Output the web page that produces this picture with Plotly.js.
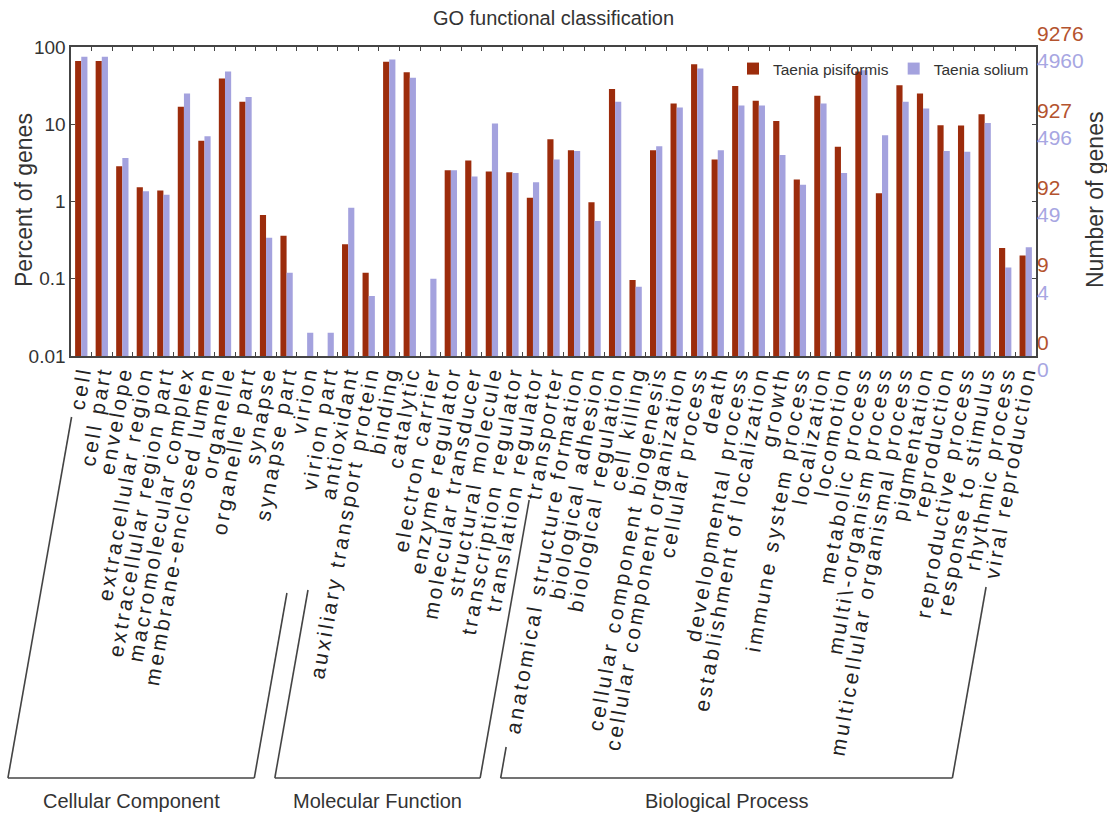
<!DOCTYPE html>
<html>
<head>
<meta charset="utf-8">
<script src="https://cdn.plot.ly/plotly-3.0.1.min.js"></script>
<style>
  html, body { margin: 0; padding: 0; background: #fff; }
  #chart { width: 1107px; height: 818px; }
  .xtick text { letter-spacing: 3px; }
</style>
</head>
<body>
<div id="chart"></div>
<script>
// ---- data ----
const categories = [
  "cell", "cell part", "envelope", "extracellular region", "extracellular region part",
  "macromolecular complex", "membrane-enclosed lumen", "organelle", "organelle part",
  "synapse", "synapse part", "virion", "virion part",
  "antioxidant", "auxiliary transport protein", "binding", "catalytic", "electron carrier",
  "enzyme regulator", "molecular transducer", "structural molecule", "transcription regulator",
  "translation regulator", "transporter",
  "anatomical structure formation", "biological adhesion", "biological regulation", "cell killing",
  "cellular component biogenesis", "cellular component organization", "cellular process", "death",
  "developmental process", "establishment of localization", "growth", "immune system process",
  "localization", "locomotion", "metabolic process", "multi\\-organism process",
  "multicellular organismal process", "pigmentation", "reproduction", "reproductive process",
  "response to stimulus", "rhythmic process", "viral reproduction"
];
const pisiformis = [
  66, 66, 2.85, 1.53, 1.39, 16.8, 6.1, 39, 19.5, 0.67, 0.36, null, null,
  0.28, 0.12, 64.5, 47, null, 2.53, 3.4, 2.45, 2.4, 1.12, 6.4,
  4.6, 0.98, 28.5, 0.096, 4.6, 18.6, 59.6, 3.5, 31.2, 20.1, 11.0, 1.93,
  23.3, 5.1, 48, 1.28, 32, 25, 9.7, 9.6, 13.5, 0.25, 0.2
];
const solium = [
  75, 75, 3.65, 1.36, 1.22, 25, 7.0, 48, 22.6, 0.34, 0.12, 0.02, 0.02,
  0.83, 0.06, 69, 40, 0.1, 2.53, 2.1, 10.2, 2.33, 1.78, 3.5,
  4.5, 0.56, 19.5, 0.079, 5.2, 16.5, 52.8, 4.6, 17.5, 17.5, 4.0, 1.65,
  18.6, 2.33, 50, 7.2, 19.5, 16, 4.5, 4.4, 10.4, 0.14, 0.255
];
const seriesNames = ["Taenia pisiformis", "Taenia solium"];
const percentTicks = [0.01, 0.1, 1, 10, 100];
const percentTickText = ["0.01", "0.1", "1", "10", "100"];
const countTicksPisiformis = ["0", "9", "92", "927", "9276"];
const countTicksSolium = ["0", "4", "49", "496", "4960"];
const groupNames = ["Cellular Component", "Molecular Function", "Biological Process"];
const groupFirst = [0, 13, 24];
const groupLast = [12, 23, 46];
const leftTitle = "Percent of genes";
const rightTitle = "Number of genes";
const chartTitle = "GO functional classification";

// ---- style / layout constants ----
const W = 1107, H = 818;
const M = {l: 71, r: 71, t: 47, b: 462};
const plotW = W - M.l - M.r, plotH = H - M.t - M.b;
const RED = "#9c2c0c", BLUE = "#a4a2de";
const RED_TXT = "#b4532e", BLUE_TXT = "#a7a6e2";
const SANS = "Liberation Sans, Arial, sans-serif";
const SLOPE = Math.tan(10 * Math.PI / 180);   // label direction (80 deg)
const AXIS_Y = 362, BRACKET_BOTTOM = 778, GROUP_LABEL_Y = 801;
const lineTopLeft = [417, 590, 747];
const lineTopRight = [593, 500, 587];

const N = categories.length;
const px2xp = px => (px - M.l) / plotW;
const py2yp = py => 1 - (py - M.t) / plotH;
function catPx(i) { return M.l + (i + 0.5) * plotW / N; }
function alongLabel(i, py) { return catPx(i) - SLOPE * (py - AXIS_Y); }

const shapes = [];
const annotations = [];
for (let g = 0; g < groupNames.length; g++) {
  const a = groupFirst[g], b = groupLast[g];
  const xlTop = alongLabel(a, lineTopLeft[g]), xlBot = alongLabel(a, BRACKET_BOTTOM);
  const xrTop = alongLabel(b, lineTopRight[g]), xrBot = alongLabel(b, BRACKET_BOTTOM);
  const ln = {color: "#444", width: 1.6};
  shapes.push({type: "line", xref: "paper", yref: "paper",
    x0: px2xp(xlTop), y0: py2yp(lineTopLeft[g]), x1: px2xp(xlBot), y1: py2yp(BRACKET_BOTTOM), line: ln});
  shapes.push({type: "line", xref: "paper", yref: "paper",
    x0: px2xp(xlBot), y0: py2yp(BRACKET_BOTTOM), x1: px2xp(xrBot), y1: py2yp(BRACKET_BOTTOM), line: ln});
  shapes.push({type: "line", xref: "paper", yref: "paper",
    x0: px2xp(xrBot), y0: py2yp(BRACKET_BOTTOM), x1: px2xp(xrTop), y1: py2yp(lineTopRight[g]), line: ln});
  annotations.push({xref: "paper", yref: "paper", x: px2xp((xlBot + xrBot) / 2), y: py2yp(GROUP_LABEL_Y),
    text: groupNames[g], showarrow: false, xanchor: "center", yanchor: "middle",
    font: {family: SANS, size: 20, color: "#333"}});
}
annotations.push({xref: "paper", yref: "paper", x: px2xp(24), y: py2yp(200), text: leftTitle,
  textangle: -90, showarrow: false, xanchor: "center", yanchor: "middle",
  font: {family: SANS, size: 23, color: "#333"}});
annotations.push({xref: "paper", yref: "paper", x: px2xp(1095), y: py2yp(200), text: rightTitle,
  textangle: -90, showarrow: false, xanchor: "center", yanchor: "middle",
  font: {family: SANS, size: 23, color: "#333"}});

const rightTickText = countTicksPisiformis.map((v, i) =>
  `<span style="fill:${RED_TXT}">${v}</span><br><span style="fill:${BLUE_TXT}">${countTicksSolium[i]}</span>`);

const traces = [
  {type: "bar", name: seriesNames[0], x: categories, y: pisiformis, marker: {color: RED}},
  {type: "bar", name: seriesNames[1], x: categories, y: solium, marker: {color: BLUE}},
  {type: "scatter", x: [categories[0]], y: [null], yaxis: "y2", showlegend: false, hoverinfo: "skip"}
];

const layout = {
  width: W, height: H,
  margin: M,
  paper_bgcolor: "#fff", plot_bgcolor: "#fff",
  barmode: "group", bargap: 0.4, bargroupgap: 0,
  showlegend: true,
  legend: {orientation: "h", x: px2xp(1034), xanchor: "right", y: py2yp(52), yanchor: "top",
    bgcolor: "rgba(0,0,0,0)", font: {family: SANS, size: 15.5, color: "#333"},
    itemwidth: 30, tracegroupgap: 0},
  title: {text: chartTitle, x: 0.5, xanchor: "center", y: 1 - 18 / H, yanchor: "middle",
    font: {family: SANS, size: 20, color: "#333"}},
  xaxis: {type: "category", tickmode: "linear", tick0: 0, dtick: 1, tickangle: -80,
    tickson: "boundaries", ticks: "inside", ticklen: 4, ticklabelstandoff: -6,
    tickcolor: "#444", showline: true, linecolor: "#444", linewidth: 1.6, mirror: "ticks",
    showgrid: false, automargin: false, range: [-0.5, N - 0.5],
    tickfont: {family: SANS, size: 21, color: "#222"}},
  yaxis: {type: "log", range: [-2, 2], tickvals: percentTicks, ticktext: percentTickText,
    ticks: "inside", ticklen: 4, tickcolor: "#444", showline: true, linecolor: "#444", linewidth: 1.6,
    mirror: true, showgrid: false, zeroline: false, automargin: false,
    tickfont: {family: SANS, size: 19, color: "#333"}},
  yaxis2: {type: "log", range: [-2, 2], overlaying: "y", side: "right", tickvals: percentTicks,
    ticktext: rightTickText, ticks: "inside", ticklen: 4, tickcolor: "#444", showline: false,
    showgrid: false, zeroline: false, automargin: false,
    tickfont: {family: SANS, size: 21, color: RED_TXT}},
  shapes: shapes,
  annotations: annotations
};

Plotly.newPlot("chart", traces, layout, {displayModeBar: false, staticPlot: true});
</script>
</body>
</html>
